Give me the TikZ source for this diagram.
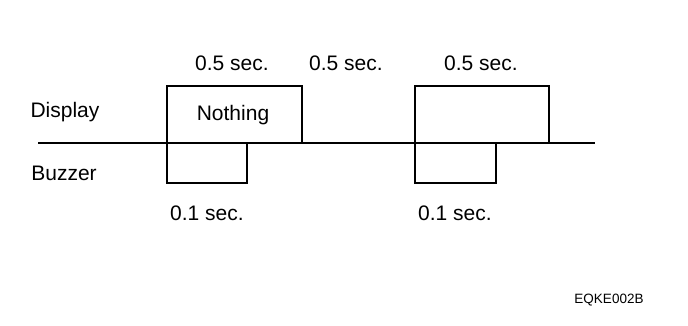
\documentclass[tikz,border=0pt]{standalone}
\usepackage{fontspec}
\setmainfont{Liberation Sans}
\usetikzlibrary{positioning}

\begin{document}
\begin{tikzpicture}[x=1pt, y=-1pt, line width=2pt, lbl/.style={font=\fontsize{21}{24}\selectfont, inner sep=0pt}]
\useasboundingbox (0,0) rectangle (688,326);
\coordinate (s) at (38,143);
\coordinate (e) at (595,143);
\coordinate (d1) at (167,86);
\coordinate (d1e) at (302,143);
\coordinate (b1e) at (247,183);
\coordinate (d2) at (415,86);
\coordinate (d2e) at (549,143);
\coordinate (b2e) at (496,183);
\draw (s) -- (e);
% display pulses
\draw (d1 |- s) -- (d1) -| (d1e);
\draw (d2 |- s) -- (d2) -| (d2e);
% buzzer pulses
\draw (d1 |- s) |- (b1e) -- (b1e |- s);
\draw (d2 |- s) |- (b2e) -- (b2e |- s);
\node (disp) [lbl] at (65,112) {Display};
\node (buzz) [lbl] at (64,173) {Buzzer};
\node (noth) [lbl] at (233,115) {Nothing};
\node (t1) [lbl] at (232,63) {0.5 sec.};
\node (t2) [lbl] at (346,63) {0.5 sec.};
\node (t3) [lbl] at (481,63) {0.5 sec.};
\node (u1) [lbl] at (207,213) {0.1 sec.};
\node (u2) [lbl] at (455,213) {0.1 sec.};
\node (code) [inner sep=0pt, font=\fontsize{13.5}{15}\selectfont] at (609,300) {EQKE002B};
\end{tikzpicture}
\end{document}
